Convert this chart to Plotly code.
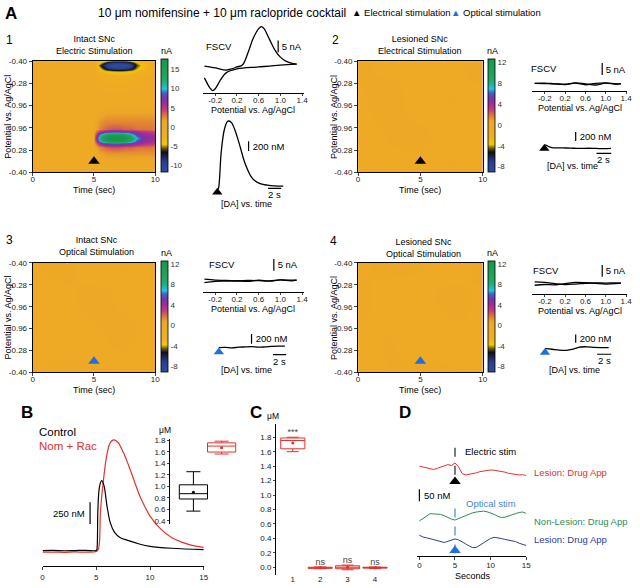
import plotly.graph_objects as go

# ======================= DATA =======================
stim_time = 5  # s

scan_tickvals = [0, 0.2, 0.4, 0.6, 0.8, 1.0]
scan_ticktext = ["-0.40", "0.28", "0.96", "0.96", "0.28", "-0.40"]
time_ticks = [0, 5, 10]

# Panel A1 colour plot (nA); rows = position along the scan (0 = top), columns = time (s)
hm1_time = [0, 4.95, 5.05, 5.5, 6.0, 6.5, 7.0, 7.5, 8.0, 8.5, 9.0, 9.5, 10]
hm1_scan = [0, 0.02, 0.04, 0.06, 0.09, 0.13, 0.2, 0.35, 0.47, 0.55, 0.61, 0.64,
            0.665, 0.69, 0.715, 0.74, 0.77, 0.83, 0.9, 1.0]
hm1_nA = [
    [0, 0, -1, -3, -5, -6, -6, -6, -5, -3.5, -2.5, -2, -1.5],
    [0, 0, -1.5, -4.5, -8, -9.5, -10, -9.5, -8, -5, -3.5, -2.5, -2],
    [0, 0, -2, -6, -10, -12, -12, -12, -10, -6, -4, -3, -2],
    [0, 0, -1.5, -4.5, -8, -9.5, -10, -9.5, -8, -5, -3.5, -2.5, -2],
    [0, 0, -1, -3, -4.5, -5, -5.2, -5, -4.5, -3.5, -2.5, -1.5, -1],
    [0, 0, -0.5, -1.5, -2.5, -3, -3, -2.8, -2.4, -2, -1.5, -1, -0.5],
    [0, 0, 0, -0.5, -1, -1, -1, -1, -0.8, -0.5, -0.3, 0, 0],
    [0, 0, 0.2, 0.3, 0.3, 0.3, 0.3, 0.3, 0.3, 0.3, 0.3, 0.3, 0.3],
    [0, 0, 0.5, 1, 1.5, 1.5, 1.5, 1.5, 1.5, 1.5, 1.5, 1.5, 1.5],
    [0, 0, 1, 2, 2.5, 2.5, 2.5, 2.5, 2.5, 2.5, 2.5, 2.5, 2.2],
    [0, 0, 1, 2.5, 3.5, 4, 4, 3.5, 3.5, 3, 3, 3, 2.5],
    [0, 0, 2, 6, 8.5, 9, 9, 8.5, 7.5, 6.5, 5.5, 5, 4.5],
    [0, 0, 3, 10, 15, 16, 16, 15, 12, 8, 6.5, 6, 5.5],
    [0, 0, 4, 12, 17, 18, 18, 17, 14, 10, 7.5, 6.5, 6],
    [0, 0, 3, 10, 15, 16, 16, 15, 12, 8, 6.5, 6, 5.5],
    [0, 0, 2, 6, 8.5, 9, 9, 8.5, 7.5, 6.5, 5.5, 5, 4.5],
    [0, 0, 1, 2.5, 3.5, 4, 4, 3.5, 3.5, 3, 3, 3, 2.5],
    [0, 0, 0.5, 1.5, 2, 2, 2, 2, 2, 2, 2, 2, 2],
    [0, 0, 0.3, 0.8, 1, 1, 1, 1, 1, 1, 1, 1, 1],
    [0, 0, 0, 0.3, 0.3, 0.3, 0.3, 0.3, 0.3, 0.3, 0.3, 0.3, 0.3],
]
hm1_zrange = [-11.8, 17.6]
hm1_cticks = [-10, -5, 0, 5, 10, 15]

# Panels A2-A4 colour plots (nA), essentially flat
hmf_time = [0, 2.5, 5, 7.5, 10]
hmf_scan = [0, 0.33, 0.67, 1.0]
hm2_nA = [[0.2, -0.1, 0.1, 0.0, 0.2], [0.0, 0.3, -0.2, 0.1, 0.0],
          [-0.1, 0.1, 0.2, -0.2, 0.1], [0.1, 0.0, -0.1, 0.2, -0.1]]
hm3_nA = [[0.1, 0.2, -0.1, 0.1, 0.0], [-0.2, 0.0, 0.2, 0.0, 0.1],
          [0.1, -0.1, 0.0, 0.2, -0.1], [0.0, 0.2, 0.1, -0.1, 0.1]]
hm4_nA = [[0.0, 0.2, 0.1, -0.1, 0.2], [0.2, -0.1, 0.0, 0.2, 0.0],
          [0.0, 0.1, -0.2, 0.0, 0.1], [-0.1, 0.1, 0.2, 0.1, -0.2]]
hmf_zrange = [-9.1, 12.5]
hmf_cticks = [-8, -4, 0, 4, 8, 12]

# Cyclic voltammograms (V, nA)
cv_ticks = [-0.2, 0.2, 0.6, 1.0, 1.4]
cv_ticktext = ["-0.2", "0.2", "0.6", "1.0", "1.4"]
cv1_fwd_v = [-0.4, -0.2, 0.0, 0.1, 0.2, 0.3, 0.4, 0.5, 0.6, 0.65, 0.7, 0.8, 0.9, 1.0, 1.1, 1.2, 1.3]
cv1_fwd_i = [0, -0.8, -1.7, -1.25, -0.4, 0.4, 5.4, 11.7, 15.8, 16.7, 15.8, 11.25, 6.7, 3.75, 2.1, 1.25, 0.8]
cv1_rev_v = [1.3, 1.0, 0.6, 0.2, 0.0, -0.1, -0.2, -0.25, -0.3, -0.4]
cv1_rev_i = [0.8, 0.4, -0.4, -1.25, -2.9, -5.8, -9.6, -10.4, -9.2, -5.0]

cvf_v_fwd = [-0.4, -0.2, 0.0, 0.2, 0.4, 0.6, 0.8, 1.0, 1.2, 1.3]
cvf_v_rev = [1.3, 1.2, 1.0, 0.8, 0.6, 0.4, 0.2, 0.0, -0.2, -0.4]
cv2_fwd_i = [0.2, 0.1, 0.0, -0.3, 0.3, -0.4, 0.2, 0.4, 0.0, 0.1]
cv2_rev_i = [0.1, -0.2, 0.3, -0.5, 0.0, 0.4, -0.2, 0.0, 0.3, 0.2]
cv3_fwd_i = [0.6, 0.2, 0.1, -0.2, 0.1, 0.0, -0.2, 0.3, 0.2, 0.2]
cv3_rev_i = [0.2, -0.1, 0.3, -0.1, 0.2, -0.3, 0.0, -0.2, -0.3, -0.8]
cv4_fwd_i = [0.7, 0.5, 0.0, -0.4, -0.2, 0.1, 0.3, 0.2, 0.3, 0.2]
cv4_rev_i = [0.2, 0.0, -0.2, 0.1, 0.4, 0.5, 0.0, -0.5, -0.4, -0.7]

# [DA] vs time traces (s after stim, nM)
da1_t = [0, 0.2, 0.6, 1.1, 1.6, 2.1, 2.6, 3.1, 3.6, 4.1, 4.6, 5.1, 5.6, 6.6, 7.6, 8.6, 10]
da1_c = [0, 66, 800, 1266, 1420, 1400, 1266, 1066, 834, 600, 434, 300, 220, 146, 120, 106, 100]
da2_t = [0, 0.3, 0.6, 1, 2, 3, 4, 5, 6, 7, 8, 9]
da2_c = [80, 70, 40, 20, 15, 10, 5, 0, 5, 0, -5, 0]
da3_t = [0, 1, 2, 3, 4, 5, 6, 7, 8, 9, 10]
da3_c = [0, 5, -5, 10, 15, 20, 10, 15, 25, 30, 33]
da4_t = [0, 1, 2, 3, 4, 5, 6, 7, 8, 9]
da4_c = [0, -15, -35, -40, -10, 40, 45, 30, 25, 24]

# Panel B traces (s, nM)
b_ctrl_t = [0, 1, 2, 3, 4, 5, 5.05, 5.15, 5.3, 5.5, 5.7, 6.0, 6.3, 6.7, 7.2, 8, 9, 10, 12, 15]
b_ctrl_c = [11, 13, 9, 11, 14, 11, 20, 485, 750, 818, 769, 522, 333, 220, 163, 125, 87, 60, 38, 23]
b_drug_t = [0, 1, 2, 3, 4, 5, 5.2, 5.4, 5.7, 6.0, 6.3, 6.6, 7.0, 7.5, 8.0, 8.5, 9.0, 9.5, 10, 11, 12, 13, 14, 15]
b_drug_c = [-8, -6, -9, -5, -7, 0, 30, 485, 863, 1128, 1257, 1287, 1261, 1147, 996, 826, 655, 523, 409,
            258, 163, 106, 68, 49]
b_box_x = [1, 2]
b_box_q1 = [0.781, 1.595]
b_box_med = [0.873, 1.698]
b_box_q3 = [1.027, 1.754]
b_box_lo = [0.571, 1.561]
b_box_hi = [1.254, 1.783]
b_box_mean = [0.896, 1.67]
b_ticks = [0.4, 0.6, 0.8, 1.0, 1.2, 1.4, 1.6, 1.8]

# Panel C (uM)
c_x = [1, 2, 3, 4]
c_labels = ["1", "2", "3", "4"]
c_q1 = [1.64, -0.015, -0.02, -0.012]
c_med = [1.755, -0.008, 0.0, -0.005]
c_q3 = [1.79, 0.0, 0.02, 0.0]
c_lo = [1.60, -0.02, -0.035, -0.018]
c_hi = [1.80, 0.005, 0.03, 0.004]
c_mean = [1.72, -0.008, 0.0, -0.006]
c_sig = ["***", "ns", "ns", "ns"]
c_ticks = [0.0, 0.2, 0.4, 0.6, 0.8, 1.0, 1.2, 1.4, 1.6, 1.8]

# Panel D (s, nM)
d_t = [0, 0.5, 1, 1.5, 2, 2.5, 3, 3.5, 4, 4.5, 5, 5.5, 6, 6.5, 7, 7.5, 8, 8.5, 9, 9.5, 10,
       10.5, 11, 11.5, 12, 12.5, 13, 13.5, 14, 14.5, 15]
d_lesion_elec = [382, 379, 377, 373, 368, 373, 379, 386, 389, 385, 396, 379, 351, 345, 347, 352,
                 354, 359, 362, 365, 366, 365, 363, 361, 357, 352, 349, 348, 345, 346, 343]
d_nonlesion_opt = [150, 160, 172, 181, 180, 178, 178, 172, 164, 158, 154, 160, 168, 175, 180, 185,
                   188, 191, 192, 189, 184, 178, 170, 165, 166, 172, 175, 181, 186, 188, 182]
d_lesion_opt = [90, 82, 79, 75, 71, 66, 61, 59, 64, 69, 74, 70, 63, 53, 44, 37, 38, 46, 57, 67,
                76, 81, 80, 76, 72, 69, 67, 63, 56, 51, 46]
d_ticks = [0, 5, 10, 15]

CV_BAR_NA = 5
DA_BAR_NM = 200
DA_BAR_S = 2
B_BAR_NM = 250
D_BAR_NM = 50

# ======================= STYLE / LAYOUT =======================
W, H = 640, 588
FONT = "Liberation Sans, Arial, Helvetica, sans-serif"
RED = "#e4312b"
GREEN = "#2e8b57"
DBLUE = "#2c3e9e"
LBLUE = "#3d86d8"
TRI_BLUE = "#1f6fe0"

CSCALE = [
    [0.0, '#2b4da0'], [0.09, '#2a3f8e'], [0.14, '#1c2150'], [0.175, '#101010'],
    [0.21, '#6b5a14'], [0.245, '#f2c80a'], [0.30, '#f0b01e'], [0.45, '#eda727'],
    [0.50, '#dc7a38'], [0.55, '#c63e78'], [0.60, '#a42c98'], [0.655, '#7038a8'],
    [0.70, '#4a5ec4'], [0.735, '#25c2e2'], [0.775, '#22b393'], [0.83, '#1fa860'],
    [1.0, '#189848'],
]


def PX(x):
    return x / W


def PY(y):
    return 1 - y / H


layout = dict(width=W, height=H, margin=dict(l=0, r=0, t=0, b=0),
              paper_bgcolor='white', plot_bgcolor='rgba(0,0,0,0)', showlegend=False,
              font=dict(family=FONT, size=9, color='black'))
annotations = []
fig = go.Figure()


def label(x, y, text, size=9, color='black', xanchor='center', yanchor='middle',
          angle=0, bold=False, xref='paper', yref='paper'):
    if bold:
        text = "<b>" + text + "</b>"
    if xref == 'paper':
        x = PX(x)
    if yref == 'paper':
        y = PY(y)
    annotations.append(dict(x=x, y=y, xref=xref, yref=yref, text=text, showarrow=False,
                            font=dict(size=size, color=color, family=FONT),
                            xanchor=xanchor, yanchor=yanchor, textangle=angle,
                            borderpad=0))


def axes(n, xpx, ypx, xcfg, ycfg):
    xk = 'xaxis' if n == 1 else f'xaxis{n}'
    yk = 'yaxis' if n == 1 else f'yaxis{n}'
    xr = 'x' if n == 1 else f'x{n}'
    yr = 'y' if n == 1 else f'y{n}'
    base = dict(showgrid=False, zeroline=False, fixedrange=True)
    layout[xk] = {**base, 'domain': [PX(xpx[0]), PX(xpx[1])], 'anchor': yr, **xcfg}
    layout[yk] = {**base, 'domain': [PY(ypx[1]), PY(ypx[0])], 'anchor': xr, **ycfg}
    return xr, yr


def bar_line(xr, yr, xs, ys, color='black', width=1.2, dash=None):
    fig.add_trace(go.Scatter(x=xs, y=ys, mode='lines', xaxis=xr, yaxis=yr,
                             line=dict(color=color, width=width, dash=dash),
                             hoverinfo='skip'))


def tri(xr, yr, x, y, color, size=10):
    fig.add_trace(go.Scatter(x=[x], y=[y], mode='markers', xaxis=xr, yaxis=yr,
                             marker=dict(symbol='triangle-up', size=size, color=color,
                                         line=dict(width=0)),
                             cliponaxis=False, hoverinfo='skip'))


# ---------- Panel A colour plots ----------
hm_specs = [
    (1, (31, 155), (58, 171), hm1_time, hm1_scan, hm1_nA, hm1_zrange, hm1_cticks, 161, 'black'),
    (4, (360, 486), (58, 171), hmf_time, hmf_scan, hm2_nA, hmf_zrange, hmf_cticks, 491, 'black'),
    (7, (31, 155), (263, 374), hmf_time, hmf_scan, hm3_nA, hmf_zrange, hmf_cticks, 161, TRI_BLUE),
    (10, (360, 486), (263, 374), hmf_time, hmf_scan, hm4_nA, hmf_zrange, hmf_cticks, 491, TRI_BLUE),
]
for n, xpx, ypx, tx, sy, z, zr, cticks, cbx, tcol in hm_specs:
    xr, yr = axes(n, xpx, ypx,
                  dict(range=[0, 10], tickvals=time_ticks, ticks='outside', ticklen=3,
                       showline=True, mirror=True, linecolor='black', linewidth=1,
                       ticklabelstandoff=-4, tickfont=dict(size=8, color='#222')),
                  dict(range=[1, 0], tickvals=scan_tickvals, ticktext=scan_ticktext,
                       ticks='outside', ticklen=3, showline=True, mirror=True,
                       linecolor='black', linewidth=1, tickfont=dict(size=8, color='#222')))
    fig.add_trace(go.Heatmap(
        x=tx, y=sy, z=z, xaxis=xr, yaxis=yr, zmin=zr[0], zmax=zr[1], zsmooth='best',
        colorscale=CSCALE, hoverinfo='skip',
        colorbar=dict(x=PX(cbx), xanchor='left', xpad=0, y=PY(ypx[1]), yanchor='bottom',
                      ypad=0, len=ypx[1] - ypx[0], lenmode='pixels', thickness=7,
                      thicknessmode='pixels', outlinewidth=0.8, outlinecolor='black',
                      tickvals=cticks, ticktext=[str(v) for v in cticks], ticks='',
                      tickfont=dict(size=8, color='#333', family=FONT))))
    tri(xr, yr, stim_time, 0.9, tcol, size=10)
    label(cbx + 5, ypx[0] - 10, "nA", size=9)
    label((xpx[0] + xpx[1]) / 2, ypx[1] + 18, "Time (sec)", size=9)
    label(xpx[0] - 25, (ypx[0] + ypx[1]) / 2, "Potential vs. Ag/AgCl", size=9, angle=-90)

# titles of colour plots
label(8, 37, "1", size=12)
label(94, 42, "Intact SNc<br>Electric Stimulation", size=9)
label(337, 37, "2", size=12)
label(423, 42, "Lesioned SNc<br>Electrical Stimulation", size=9)
label(8, 240, "3", size=12)
label(96, 246, "Intact SNc<br>Optical Stimulation", size=9)
label(335, 241, "4", size=12)
label(426, 248, "Lesioned SNc<br>Optical Stimulation", size=9)

# ---------- CVs ----------
cv_specs = [
    (2, (203, 305), (20, 90), [-0.43, 1.43], [-11.25, 17.9],
     (cv1_fwd_v, cv1_fwd_i), (cv1_rev_v, cv1_rev_i), 0.96, 5.8, (219, 43)),
    (5, (536, 632), (52, 88), [-0.45, 1.42], [-2.9, 12.1],
     (cvf_v_fwd, cv2_fwd_i), (cvf_v_rev, cv2_rev_i), 0.93, 3.75, (548, 65)),
    (8, (203, 305), (255, 292), [-0.43, 1.43], [-4.6, 10.8],
     (cvf_v_fwd, cv3_fwd_i), (cvf_v_rev, cv3_rev_i), 0.88, 4.2, (222, 265)),
    (11, (536, 632), (258, 294), [-0.45, 1.42], [-4.2, 10.8],
     (cvf_v_fwd, cv4_fwd_i), (cvf_v_rev, cv4_rev_i), 0.93, 2.9, (550, 271)),
]
for n, xpx, ypx, xrg, yrg, fwd, rev, barv, bary0, fscv in cv_specs:
    xr, yr = axes(n, xpx, ypx,
                  dict(range=xrg, tickvals=cv_ticks, ticktext=cv_ticktext,
                       ticks='outside', ticklen=2, showline=True, linecolor='black',
                       linewidth=1, ticklabelstandoff=-2, tickfont=dict(size=8, color='#222')),
                  dict(range=yrg, visible=False))
    fig.add_trace(go.Scatter(x=fwd[0], y=fwd[1], mode='lines', xaxis=xr, yaxis=yr,
                             line=dict(color='black', width=1.3, shape='spline'), hoverinfo='skip'))
    fig.add_trace(go.Scatter(x=rev[0], y=rev[1], mode='lines', xaxis=xr, yaxis=yr,
                             line=dict(color='black', width=1.3, shape='spline'), hoverinfo='skip'))
    bar_line(xr, yr, [barv, barv], [bary0, bary0 + CV_BAR_NA])
    label(barv, bary0 + CV_BAR_NA / 2, "&nbsp;" + f"{CV_BAR_NA} nA", size=9.5,
          xanchor='left', xref=xr, yref=yr)
    label(fscv[0], fscv[1], "FSCV", size=9.5)
    label((xpx[0] + xpx[1]) / 2, ypx[1] + 18, "Potential vs. Ag/AgCl", size=9)

# ---------- [DA] vs time ----------
da_specs = [
    (3, (210, 290), (110, 200), [-1.15, 10.84], [-200, 1600], da1_t, da1_c, 'black', -25,
     4.74, 814, 54, 7.69, (247, 203)),
    (6, (540, 625), (120, 170), [-1.11, 10.23], [-517, 593], da2_t, da2_c, 'black', 0,
     4.23, 170, -111, 7.03, (577, 165)),
    (9, (210, 292), (325, 375), [-1.39, 10.9], [-520, 480], da3_t, da3_c, TRI_BLUE, -86,
     4.95, 80, -140, 8.2, (247, 372)),
    (12, (540, 625), (325, 375), [-1.26, 10.63], [-600, 600], da4_t, da4_c, TRI_BLUE, -96,
     4.34, 144, -137, 7.37, (579, 372)),
]
for n, xpx, ypx, xrg, yrg, t, c, tcol, tri_y, vb_t, vb_y0, hb_y, hb_t0, lab in da_specs:
    xr, yr = axes(n, xpx, ypx, dict(range=xrg, visible=False), dict(range=yrg, visible=False))
    fig.add_trace(go.Scatter(x=t, y=c, mode='lines', xaxis=xr, yaxis=yr,
                             line=dict(color='black', width=1.3, shape='spline'), hoverinfo='skip'))
    tri(xr, yr, 0, tri_y, tcol, size=9)
    bar_line(xr, yr, [vb_t, vb_t], [vb_y0, vb_y0 + DA_BAR_NM])
    label(vb_t, vb_y0 + DA_BAR_NM / 2, "&nbsp;" + f"{DA_BAR_NM} nM", size=9.5,
          xanchor='left', xref=xr, yref=yr)
    bar_line(xr, yr, [hb_t0, hb_t0 + DA_BAR_S], [hb_y, hb_y])
    label(hb_t0 + DA_BAR_S / 2, hb_y, f"{DA_BAR_S} s", size=9.5, yanchor='top',
          xref=xr, yref=yr)
    label(lab[0], lab[1], "[DA] vs. time", size=9)

# ---------- Panel B ----------
xr, yr = axes(13, (41, 204), (435, 571),
              dict(range=[0, 15], tickvals=[0, 5, 10, 15], ticks='outside', ticklen=3,
                   showline=True, linecolor='black', linewidth=1,
                   tickfont=dict(size=8, color='#222')),
              dict(range=[-170, 1375], visible=False))
fig.add_trace(go.Scatter(x=b_drug_t, y=b_drug_c, mode='lines', xaxis=xr, yaxis=yr,
                         line=dict(color=RED, width=1.2, shape='spline'), hoverinfo='skip'))
fig.add_trace(go.Scatter(x=b_ctrl_t, y=b_ctrl_c, mode='lines', xaxis=xr, yaxis=yr,
                         line=dict(color='black', width=1.2, shape='spline'), hoverinfo='skip'))
bar_line(xr, yr, [4.42, 4.42], [318, 318 + B_BAR_NM])
label(4.0, 318 + B_BAR_NM / 2, f"{B_BAR_NM} nM", size=9.5, xanchor='right', xref=xr, yref=yr)
label(36, 435, "Control", size=11.5, xanchor='left')
label(36, 449, "Nom + Rac", size=11.5, color=RED, xanchor='left')
label(18, 415, "B", size=17, bold=True, xanchor='left')

xr, yr = axes(14, (170, 240), (442, 528),
              dict(range=[0.175, 2.63], visible=False),
              dict(range=[0.349, 1.817], tickvals=b_ticks, tickformat='.1f', ticks='outside',
                   ticklen=2, showline=True, linecolor='black', linewidth=1,
                   tickfont=dict(size=8, color='#222')))
for i, col in enumerate(['black', RED]):
    fig.add_trace(go.Box(x=[b_box_x[i]], q1=[b_box_q1[i]], median=[b_box_med[i]],
                         q3=[b_box_q3[i]], lowerfence=[b_box_lo[i]], upperfence=[b_box_hi[i]],
                         xaxis=xr, yaxis=yr, width=1.0, whiskerwidth=0.5,
                         line=dict(color=col, width=1), fillcolor='rgba(255,255,255,0)',
                         hoverinfo='skip'))
    fig.add_trace(go.Scatter(x=[b_box_x[i]], y=[b_box_mean[i]], mode='markers', xaxis=xr,
                             yaxis=yr, marker=dict(color=col, size=3), hoverinfo='skip'))
label(165, 433, "μM", size=8.5)

# ---------- Panel C ----------
xr, yr = axes(15, (277, 395), (427, 580),
              dict(range=[0.386, 4.646], tickvals=c_x, ticktext=c_labels, ticks='',
                   showline=False, ticklabelstandoff=-2, tickfont=dict(size=8, color='#222')),
              dict(range=[-0.109, 1.977], tickvals=c_ticks, tickformat='.1f', ticks='outside',
                   ticklen=2, showline=True, linecolor='black', linewidth=1,
                   tickfont=dict(size=8, color='#222')))
fig.add_trace(go.Box(x=c_x, q1=c_q1, median=c_med, q3=c_q3, lowerfence=c_lo, upperfence=c_hi,
                     xaxis=xr, yaxis=yr, width=0.88, whiskerwidth=0.5,
                     line=dict(color=RED, width=1), fillcolor='rgba(255,255,255,0)',
                     hoverinfo='skip'))
fig.add_trace(go.Scatter(x=c_x, y=c_mean, mode='markers', xaxis=xr, yaxis=yr,
                         marker=dict(color=RED, size=3), hoverinfo='skip'))
fig.add_trace(go.Scatter(x=c_x, y=c_hi, mode='text', text=c_sig, textposition='top center',
                         xaxis=xr, yaxis=yr, textfont=dict(size=9, color='#444'),
                         cliponaxis=False, hoverinfo='skip'))
label(250, 415, "C", size=17, bold=True, xanchor='left')
label(274, 418, "μM", size=8.5)

# ---------- Panel D ----------
xr, yr = axes(16, (420, 530), (440, 561),
              dict(range=[-0.28, 15], tickvals=d_ticks, ticks='outside', ticklen=3,
                   showline=True, linecolor='black', linewidth=1, ticklabelstandoff=-2,
                   tickfont=dict(size=8, color='#222')),
              dict(range=[0, 504.6], visible=False))
fig.add_trace(go.Scatter(x=d_t, y=d_lesion_elec, mode='lines', xaxis=xr, yaxis=yr,
                         line=dict(color=RED, width=1), hoverinfo='skip'))
fig.add_trace(go.Scatter(x=d_t, y=d_nonlesion_opt, mode='lines', xaxis=xr, yaxis=yr,
                         line=dict(color=GREEN, width=1), hoverinfo='skip'))
fig.add_trace(go.Scatter(x=d_t, y=d_lesion_opt, mode='lines', xaxis=xr, yaxis=yr,
                         line=dict(color=DBLUE, width=1), hoverinfo='skip'))
bar_line(xr, yr, [stim_time, stim_time], [346, 492], color='#222', width=1.2, dash='dash')
bar_line(xr, yr, [stim_time, stim_time], [12, 204], color=LBLUE, width=1.2, dash='dash')
tri(xr, yr, stim_time, 317, 'black', size=10)
tri(xr, yr, stim_time, 25, TRI_BLUE, size=10)
bar_line(xr, yr, [0, 0], [234, 234 + D_BAR_NM])
label(0.5, 234 + D_BAR_NM / 2, f"{D_BAR_NM} nM", size=9.5, xanchor='left', xref=xr, yref=yr)
label(6.25, 446, "Electric stim", size=9.5, xanchor='left', xref=xr, yref=yr)
label(6.4, 225, "Optical stim", size=9.5, color=LBLUE, xanchor='left', xref=xr, yref=yr)
label(537, 476, "Lesion: Drug App", size=9.5, color=RED, xanchor='left')
label(537, 526, "Non-Lesion: Drug App", size=9.5, color=GREEN, xanchor='left')
label(537, 544, "Lesion: Drug App", size=9.5, color=DBLUE, xanchor='left')
label(476, 581, "Seconds", size=9)
label(400, 415, "D", size=17, bold=True, xanchor='left')

# ---------- Header ----------
label(2, 10, "A", size=17, bold=True, xanchor='left')
label(222, 9, "10 μm nomifensine + 10 μm raclopride cocktail", size=12)
label(353, 9, '<span style="color:#000000">▲</span> Electrical stimulation', size=9.5,
      xanchor='left')
label(453, 9, '<span style="color:' + TRI_BLUE + '">▲</span> Optical stimulation', size=9.5,
      xanchor='left')

layout['annotations'] = annotations
fig.update_layout(**layout)
fig.write_html("out.html", config={'displayModeBar': False},
               post_script="document.body.style.margin='0';document.body.style.overflow='hidden';")
